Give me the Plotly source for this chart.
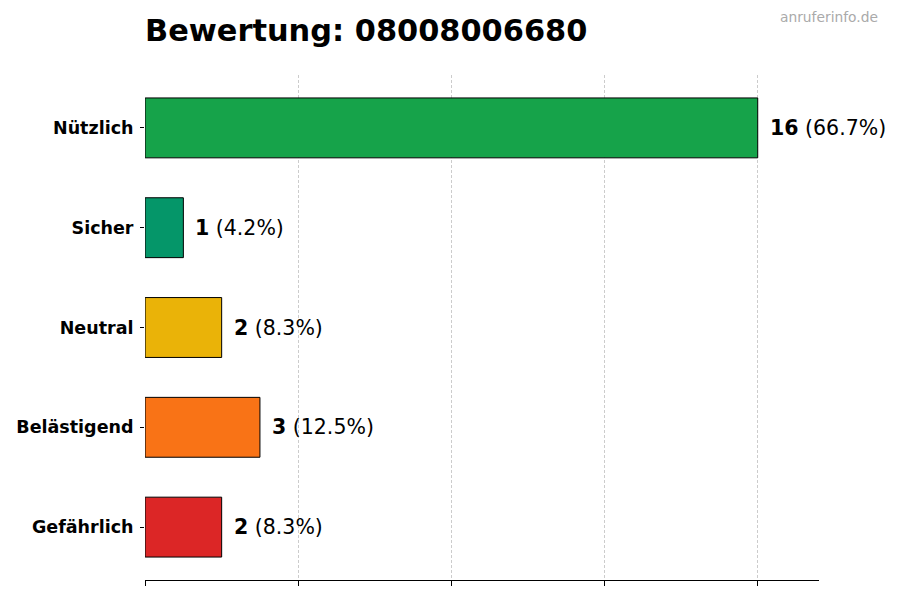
import plotly.graph_objects as go

categories = ["Nützlich", "Sicher", "Neutral", "Belästigend", "Gefährlich"]
counts = [16, 1, 2, 3, 2]
colors = ["#16a34a", "#059669", "#eab308", "#f97316", "#dc2626"]
x_ticks = [0, 4, 8, 12, 16]
number = "08008006680"

total = sum(counts)

fig = go.Figure(go.Bar(
    x=counts,
    y=categories,
    orientation="h",
    width=0.6,
    marker=dict(color=colors, line=dict(color="black", width=1)),
    hoverinfo="skip",
))

# value labels next to the bars
for cat, n in zip(categories, counts):
    fig.add_annotation(
        x=n, y=cat, xref="x", yref="y",
        text=f"<b>{n}</b> ({n / total * 100:.1f}%)",
        showarrow=False, xanchor="left", xshift=10,
        font=dict(size=20.5, color="black"),
    )

# watermark top right
fig.add_annotation(
    xref="paper", yref="paper",
    x=1.0 + (880 - 819) / 674, y=1.0 + (75 - 17) / 505,
    xanchor="right", yanchor="middle",
    text="anruferinfo.de", showarrow=False,
    font=dict(size=13.8, color="#aaaaaa"),
)

fig.update_layout(
    width=900, height=600,
    margin=dict(l=145, r=81, t=75, b=20),
    plot_bgcolor="white", paper_bgcolor="white",
    font=dict(family="DejaVu Sans", color="black"),
    showlegend=False,
    title=dict(text=f"<b>Bewertung: {number}</b>", x=145 / 900, xanchor="left",
               y=1 - 30 / 600, yanchor="middle", font=dict(size=30.4)),
)
fig.update_xaxes(
    range=[-0.002, 17.6], tickvals=x_ticks, showticklabels=False,
    ticks="outside", ticklen=5, tickcolor="black",
    showline=True, linecolor="black", linewidth=1,
    showgrid=True, gridcolor="#cccccc", griddash="3px,2px", gridwidth=1,
    zeroline=False,
)
fig.update_yaxes(
    range=[4.53, -0.53], ticks="outside", ticklen=4, tickcolor="black",
    showline=False, showgrid=False, zeroline=False,
    tickfont=dict(size=17.5, family="DejaVu Sans"),
    ticklabelstandoff=3,
    tickvals=categories, ticktext=[f"<b>{c}</b>" for c in categories],
)

fig.write_html("out.html", config={"displayModeBar": False},
               post_script="document.body.style.margin='0';")
